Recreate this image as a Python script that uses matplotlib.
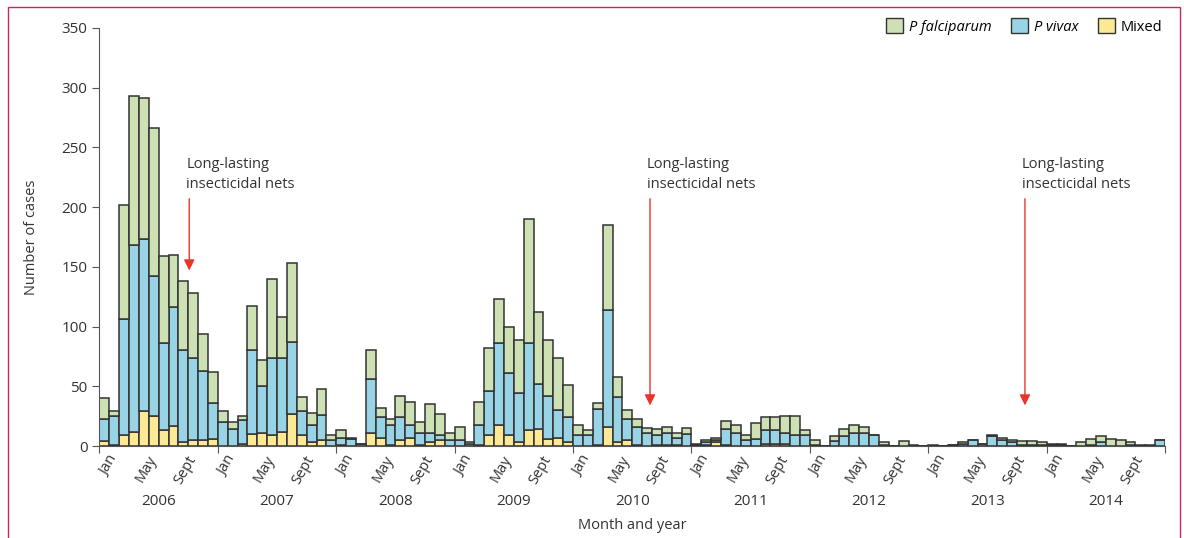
import numpy as np
import matplotlib
matplotlib.use('Agg')
import matplotlib.pyplot as plt
from matplotlib.patches import Patch, Rectangle

plt.rcParams['font.family'] = ['Open Sans', 'DejaVu Sans']

# monthly case counts, Jan 2006 - Dec 2014
years = ['2006', '2007', '2008', '2009', '2010', '2011', '2012', '2013', '2014']
month_labels = ['Jan', 'May', 'Sept']

mixed = [4, 1, 9, 12, 29, 25, 13, 17, 3, 5, 5, 6,
         0, 0, 2, 10, 11, 9, 12, 27, 9, 3, 5, 0,
         1, 0, 0, 11, 7, 1, 5, 7, 1, 3, 5, 0,
         0, 0, 1, 9, 18, 9, 3, 13, 14, 6, 7, 3,
         0, 0, 1, 16, 3, 5, 1, 0, 1, 1, 1, 0,
         0, 1, 3, 1, 0, 0, 0, 2, 2, 2, 0, 0,
         0, 0, 0, 0, 0, 0, 0, 0, 0, 0, 0, 0,
         0, 0, 0, 0, 0, 0, 0, 0, 0, 0, 0, 0,
         0, 0, 0, 0, 0, 0, 0, 0, 0, 0, 0, 0]
vivax = [19, 24, 97, 156, 144, 117, 73, 99, 77, 69, 58, 30,
         20, 14, 20, 70, 39, 65, 62, 60, 20, 15, 21, 5,
         6, 6, 2, 45, 17, 17, 19, 11, 10, 8, 4, 5,
         5, 2, 17, 37, 68, 52, 41, 73, 38, 36, 23, 21,
         9, 9, 30, 98, 38, 18, 15, 11, 8, 10, 6, 10,
         1, 2, 2, 13, 11, 5, 6, 11, 11, 9, 9, 9,
         1, 0, 4, 8, 11, 11, 9, 1, 0, 0, 0, 0,
         0, 0, 1, 2, 5, 2, 8, 5, 3, 1, 1, 1,
         1, 1, 0, 0, 1, 3, 0, 0, 1, 0, 0, 5]
falciparum = [17, 4, 96, 125, 118, 124, 73, 44, 58, 54, 31, 26,
              9, 6, 3, 37, 22, 66, 34, 66, 12, 10, 22, 4,
              6, 1, 0, 24, 8, 5, 18, 19, 9, 24, 18, 6,
              11, 1, 19, 36, 37, 39, 45, 104, 60, 47, 44, 27,
              9, 4, 5, 71, 17, 7, 7, 4, 5, 5, 4, 5,
              1, 2, 2, 7, 7, 4, 13, 11, 11, 14, 16, 4,
              4, 0, 4, 6, 7, 5, 0, 2, 0, 4, 1, 0,
              1, 0, 0, 1, 0, 0, 1, 2, 2, 3, 3, 2,
              1, 1, 0, 3, 5, 5, 6, 5, 2, 1, 1, 0]

mixed = np.array(mixed)
vivax = np.array(vivax)
falciparum = np.array(falciparum)
x = np.arange(len(mixed))

c_fal = '#cde1b5'
c_viv = '#98d3e6'
c_mix = '#fde995'
edge = '#333333'

fig = plt.figure(figsize=(11.84, 5.38), dpi=100)
ax = fig.add_axes([0.084, 0.171, 0.9, 0.777])

ax.bar(x, mixed, width=1, align='edge', color=c_mix, edgecolor=edge, linewidth=1.1)
ax.bar(x, vivax, width=1, align='edge', bottom=mixed, color=c_viv, edgecolor=edge, linewidth=1.1)
ax.bar(x, falciparum, width=1, align='edge', bottom=mixed + vivax, color=c_fal, edgecolor=edge, linewidth=1.1)

ax.set_xlim(0, 108)
ax.set_ylim(0, 350)
ax.set_yticks(np.arange(0, 351, 50))
ax.tick_params(axis='y', labelsize=11, length=5, color='#555555', labelcolor='#333333')
ax.set_xticks(np.arange(0, 109, 12))
ax.set_xticklabels([])
ax.tick_params(axis='x', length=5, color='#555555')
for s in ['top', 'right']:
    ax.spines[s].set_visible(False)
ax.spines['left'].set_color('#555555')
ax.spines['bottom'].set_color('#555555')

# month and year labels
for i, yr in enumerate(years):
    for j, m in enumerate(month_labels):
        pos = i * 12 + j * 4 + 0.5
        ax.text(pos + 0.3, -6, m, rotation=60, ha='right', va='top',
                rotation_mode='anchor', fontsize=10.5, color='#333333')
    ax.text(i * 12 + 6, -40, yr, ha='center', va='top', fontsize=11, color='#333333')

ax.text(54, -60, 'Month and year', ha='center', va='top', fontsize=10.5, color='#333333')
ax.set_ylabel('Number of cases', fontsize=10.5, color='#333333', labelpad=16)

# intervention arrows
for xt, xa, ytip in [(8.8, 9.1, 147), (55.5, 55.8, 34), (93.5, 93.8, 34)]:
    ax.text(xt, 242, 'Long-lasting\ninsecticidal nets', ha='left', va='top',
            fontsize=10.5, color='#333333', linespacing=1.5)
    ax.annotate('', xy=(xa, ytip), xytext=(xa, 207),
                arrowprops=dict(arrowstyle='-|>', color='#e8342a', lw=1,
                                mutation_scale=16, shrinkA=0, shrinkB=0))

handles = [Patch(facecolor=c_fal, edgecolor=edge, label='P falciparum'),
           Patch(facecolor=c_viv, edgecolor=edge, label='P vivax'),
           Patch(facecolor=c_mix, edgecolor=edge, label='Mixed')]
leg = ax.legend(handles=handles, loc='upper right', ncol=3, frameon=False,
                fontsize=10.5, bbox_to_anchor=(1.01, 1.055), handlelength=1.2,
                handleheight=1.2, handletextpad=0.4, columnspacing=1.3)
for t in leg.get_texts()[:2]:
    t.set_style('italic')

fig.patches.append(Rectangle((8 / 1184, -0.1), 1172 / 1184, 1.1 - 7 / 538,
                             transform=fig.transFigure, fill=False,
                             edgecolor='#cc2856', lw=1))

fig.savefig('out.png', dpi=100)
